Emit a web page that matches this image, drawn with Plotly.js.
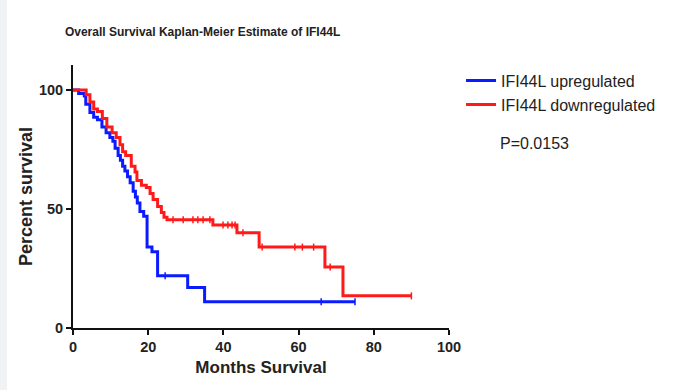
<!DOCTYPE html>
<html>
<head>
<meta charset="utf-8">
<script src="https://cdn.plot.ly/plotly-3.0.1.min.js"></script>
<style>
html,body{margin:0;padding:0;}
body{width:676px;height:390px;background:linear-gradient(to right,#f1f2f4 0px,#f1f2f4 7px,#ffffff 7px);}
#chart{width:676px;height:390px;}
</style>
</head>
<body>
<div id="chart"></div>
<script>
// IFI44L upregulated (blue): step times (months) and survival (%) after each step
var upTimes = [0, 1.5, 3, 3.4, 4.5, 5.5, 6.5, 7.7, 8.8, 9.8, 10.6, 11.2, 12, 12.6, 13.2, 13.8, 14.5, 15.2, 16, 16.6, 17.1, 17.8, 18.8, 19.7, 21, 22.5, 30.5, 35, 75];
var upSurv  = [100, 98.5, 97.5, 94, 90.5, 88.5, 87.5, 84.5, 82, 80, 78.5, 75.5, 72.5, 70.5, 68, 66, 63.5, 61, 57.5, 55, 52.5, 49, 47, 34, 32, 22, 17, 11, 11];
var upCensT = [24.5, 66, 75];
var upCensS = [22, 11, 11];

// IFI44L downregulated (red)
var downTimes = [0, 3.5, 4.5, 5.5, 6.5, 7.8, 9, 10.4, 11.5, 12.5, 13.2, 14, 15.5, 16.5, 17, 18.2, 19.5, 20.5, 21.3, 22.5, 23.5, 24.2, 25, 37.2, 43.6, 49.5, 67, 71.8, 90];
var downSurv  = [100, 98, 95, 92, 91, 88, 84.5, 82, 80, 77, 74, 72.5, 68, 65.5, 62, 60, 59, 56.5, 54, 51, 48.5, 46.5, 45.5, 43.3, 40, 34, 25.6, 13.5, 13.5];
var downCensT = [26.6, 29.3, 31.9, 33.2, 34.6, 36.4, 39.9, 41.2, 42.3, 43.1, 45.2, 50.3, 59, 61, 64, 68.4, 90];
var downCensS = [45.5, 45.5, 45.5, 45.5, 45.5, 45.5, 43.3, 43.3, 43.3, 43.3, 40, 34, 34, 34, 34, 25.6, 13.5];

var seriesNames = ['IFI44L upregulated', 'IFI44L downregulated'];
var xTicks = [0, 20, 40, 60, 80, 100];
var yTicks = [0, 50, 100];
var pText = 'P=0.0153';

var BLUE = '#0a1bff', RED = '#ff1a1a';

var traces = [
  {x: upTimes, y: upSurv, mode: 'lines', line: {shape: 'hv', color: BLUE, width: 3}, name: seriesNames[0], legendrank: 1},
  {x: downTimes, y: downSurv, mode: 'lines', line: {shape: 'hv', color: RED, width: 3}, name: seriesNames[1], legendrank: 2},
  {x: upCensT, y: upCensS, mode: 'markers', marker: {symbol: 'line-ns-open', size: 5, color: BLUE, line: {color: BLUE, width: 1.5}}, showlegend: false, hoverinfo: 'skip'},
  {x: downCensT, y: downCensS, mode: 'markers', marker: {symbol: 'line-ns-open', size: 5, color: RED, line: {color: RED, width: 1.5}}, showlegend: false, hoverinfo: 'skip'}
];

var axisFont = {family: 'Liberation Sans, Arial, sans-serif', size: 14.5, color: '#222', weight: 'bold'};

var layout = {
  width: 676, height: 390,
  paper_bgcolor: 'rgba(0,0,0,0)', plot_bgcolor: 'rgba(0,0,0,0)',
  margin: {l: 73, r: 227, t: 65, b: 62},
  font: {family: 'Liberation Sans, Arial, sans-serif', color: '#222'},
  title: {text: '<b>Overall Survival Kaplan-Meier Estimate of IFI44L</b>', x: 0.096, xanchor: 'left', xref: 'container', y: 0.918, yanchor: 'middle', yref: 'container',
          font: {size: 12, color: '#222'}},
  xaxis: {range: [0, 100], tickvals: xTicks, ticks: 'outside', ticklen: 5, tickwidth: 2, tickcolor: '#111',
          showline: true, linecolor: '#111', linewidth: 2, showgrid: false, zeroline: false, tickfont: axisFont,
          title: {text: '<b>Months Survival</b>', font: {size: 17, color: '#222'}, standoff: 7}},
  yaxis: {range: [0, 110.5], tickvals: yTicks, ticks: 'outside', ticklen: 5, tickwidth: 2, tickcolor: '#111',
          showline: true, linecolor: '#111', linewidth: 2, showgrid: false, zeroline: false, tickfont: axisFont,
          title: {text: '<b>Percent survival</b>', font: {size: 18, color: '#222'}, standoff: 2}},
  legend: {x: 1.032, y: 1.005, xanchor: 'left', yanchor: 'top', font: {size: 16, color: '#222'}, itemwidth: 30, tracegroupgap: 0, bgcolor: 'rgba(0,0,0,0)'},
  annotations: [{text: pText, xref: 'paper', yref: 'paper', x: 1.131, y: 0.70, xanchor: 'left', yanchor: 'middle', showarrow: false, font: {size: 16, color: '#222'}}]
};

Plotly.newPlot('chart', traces, layout, {displayModeBar: false, staticPlot: true});
</script>
</body>
</html>
